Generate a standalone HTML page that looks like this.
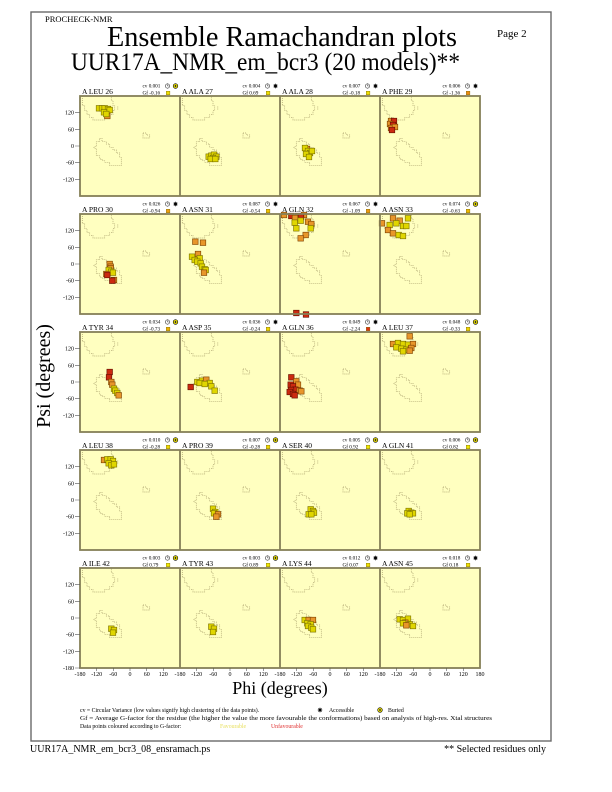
<!DOCTYPE html>
<html><head><meta charset="utf-8"><style>
html,body{margin:0;padding:0;background:#fff;}
svg{display:block;font-family:"Liberation Serif",serif;}
</style></head><body>
<svg width="612" height="792" viewBox="0 0 612 792" xmlns="http://www.w3.org/2000/svg">
<defs>
<g id="reg" fill="none" stroke="#a89e6a" stroke-width="0.7" stroke-dasharray="1,1">
<path d="M2.3,0 V9.7 H4.7 V14.7 H7 V18.7 H9.7 V21.3 H13 V24 H24.7 V21.3 H29.7 V18.7 H33 V14.7 H34.7 V9.7 H33 V4.7 H31.3 V0"/>
<path d="M37.8,10.5 V14"/>
<path d="M19.7,42.3 H22 V45.7 H26.3 V48 H29.7 V51.3 H33 V54 H36.3 V57 H39.7 V61.3 H41.3 V69.7 H29.7 V66.3 H24.7 V64.7 H22 V63 H19.7 V59.7 H16.3 V52.3 H14 V50.7 H16.3 V45.7 H19.7 Z"/>
<path d="M63,37 H66.3 V39 H69.7 V42 H63 Z"/>
</g>
<g id="pan"><rect x="0" y="0" width="100" height="100" fill="#ffffc0"/><use href="#reg"/></g>
<rect id="Y" x="-2.8" y="-2.8" width="5.6" height="5.6" fill="#e0d600" stroke="#786e00" stroke-width="0.6"/>
<rect id="O" x="-2.8" y="-2.8" width="5.6" height="5.6" fill="#e8962a" stroke="#7a4000" stroke-width="0.6"/>
<rect id="R" x="-2.8" y="-2.8" width="5.6" height="5.6" fill="#cc2a10" stroke="#601000" stroke-width="0.6"/>
<g id="clk"><circle r="2.2" fill="#fff" stroke="#000" stroke-width="0.5"/><path d="M0,0 V-1.6 M0,0 H1.2" stroke="#000" stroke-width="0.4"/></g>
<g id="acc"><circle r="1.5" fill="#000"/><path d="M-2.4,0 H2.4 M0,-2.4 V2.4 M-1.7,-1.7 L1.7,1.7 M-1.7,1.7 L1.7,-1.7" stroke="#000" stroke-width="0.6"/></g>
<g id="bur"><circle r="2.3" fill="#f0e400" stroke="#000" stroke-width="0.6"/><ellipse rx="0.8" ry="1.2" fill="#333"/></g>
</defs>

<rect x="31" y="12" width="520" height="729" fill="none" stroke="#6a6a6a" stroke-width="1.4"/>

<text x="45" y="22" font-size="8.5">PROCHECK-NMR</text>
<text x="497" y="37" font-size="11">Page  2</text>
<text x="107" y="46" font-size="28" textLength="350" lengthAdjust="spacingAndGlyphs">Ensemble Ramachandran plots</text>
<text x="71" y="70" font-size="25" textLength="389" lengthAdjust="spacingAndGlyphs">UUR17A_NMR_em_bcr3 (20 models)**</text>

<!-- panels backgrounds -->
<g>
<use href="#pan" x="80" y="96"/><use href="#pan" x="180" y="96"/><use href="#pan" x="280" y="96"/><use href="#pan" x="380" y="96"/>
<use href="#pan" x="80" y="214"/><use href="#pan" x="180" y="214"/><use href="#pan" x="280" y="214"/><use href="#pan" x="380" y="214"/>
<use href="#pan" x="80" y="332"/><use href="#pan" x="180" y="332"/><use href="#pan" x="280" y="332"/><use href="#pan" x="380" y="332"/>
<use href="#pan" x="80" y="450"/><use href="#pan" x="180" y="450"/><use href="#pan" x="280" y="450"/><use href="#pan" x="380" y="450"/>
<use href="#pan" x="80" y="568"/><use href="#pan" x="180" y="568"/><use href="#pan" x="280" y="568"/><use href="#pan" x="380" y="568"/>
</g>

<!-- data points -->
<g transform="translate(80,96)"><use href="#Y" x="19" y="12.3"/><use href="#Y" x="22" y="12.3"/><use href="#Y" x="24.7" y="12.3"/><use href="#Y" x="28" y="13"/><use href="#Y" x="29.7" y="14"/><use href="#Y" x="24" y="16.3"/><use href="#O" x="27.3" y="20"/><use href="#Y" x="26.3" y="18"/></g>
<g transform="translate(180,96)"><use href="#Y" x="28.7" y="60.7"/><use href="#Y" x="31.3" y="59.7"/><use href="#Y" x="34" y="58.7"/><use href="#Y" x="36.3" y="60.7"/><use href="#Y" x="33" y="62"/><use href="#Y" x="30.7" y="63"/><use href="#Y" x="35.3" y="63"/></g>
<g transform="translate(280,96)"><use href="#O" x="27" y="53"/><use href="#Y" x="25" y="52"/><use href="#Y" x="28" y="55"/><use href="#Y" x="30" y="57"/><use href="#Y" x="26" y="58"/><use href="#Y" x="29" y="61"/><use href="#Y" x="32" y="55"/></g>
<g transform="translate(380,96)"><use href="#O" x="11" y="25"/><use href="#R" x="14" y="25"/><use href="#O" x="10" y="28"/><use href="#R" x="13" y="29"/><use href="#O" x="11" y="32"/><use href="#O" x="15" y="31"/><use href="#R" x="12" y="34"/></g>

<g transform="translate(80,214)"><use href="#O" x="29.7" y="50"/><use href="#O" x="30.7" y="52.7"/><use href="#O" x="30.7" y="54.3"/><use href="#Y" x="28.7" y="56"/><use href="#Y" x="31.3" y="57.7"/><use href="#Y" x="33" y="58.7"/><use href="#O" x="26.3" y="60"/><use href="#R" x="27.3" y="61"/><use href="#O" x="34" y="66"/><use href="#R" x="32.3" y="66.7"/></g>
<g transform="translate(180,214)"><use href="#O" x="15.3" y="27.7"/><use href="#O" x="23" y="28.7"/><use href="#O" x="18" y="40"/><use href="#Y" x="12" y="42.7"/><use href="#Y" x="19.7" y="44.3"/><use href="#Y" x="14.7" y="46"/><use href="#Y" x="17.3" y="47.7"/><use href="#Y" x="20.7" y="49.3"/><use href="#Y" x="22" y="52.7"/><use href="#Y" x="24.7" y="55.3"/><use href="#Y" x="25.7" y="56"/><use href="#O" x="24" y="58.7"/></g>
<g transform="translate(280,214)"><use href="#O" x="4" y="1"/><use href="#R" x="11.3" y="2"/><use href="#R" x="18" y="2"/><use href="#O" x="24" y="1"/><use href="#R" x="21" y="3"/><use href="#O" x="15" y="4"/><use href="#Y" x="14.7" y="8.7"/><use href="#Y" x="20.7" y="6.7"/><use href="#O" x="28" y="7.7"/><use href="#O" x="31.3" y="10"/><use href="#Y" x="16.3" y="14.3"/><use href="#Y" x="30.7" y="14.3"/><use href="#O" x="25.7" y="21"/><use href="#O" x="20.7" y="24.3"/><use href="#R" x="16.3" y="99"/><use href="#R" x="26" y="100.5"/></g>
<g transform="translate(380,214)"><use href="#O" x="2" y="9.3"/><use href="#O" x="13" y="4.3"/><use href="#O" x="19.7" y="6.7"/><use href="#Y" x="28" y="4.3"/><use href="#Y" x="9.7" y="11"/><use href="#Y" x="16.3" y="9.3"/><use href="#Y" x="23" y="12"/><use href="#Y" x="26.3" y="12"/><use href="#O" x="8" y="16"/><use href="#O" x="13" y="19.3"/><use href="#Y" x="18.7" y="21"/><use href="#Y" x="23" y="22"/></g>

<g transform="translate(80,332)"><use href="#R" x="29.7" y="40"/><use href="#R" x="29" y="45.3"/><use href="#O" x="31.3" y="50"/><use href="#O" x="32.3" y="52.7"/><use href="#Y" x="34" y="56.7"/><use href="#Y" x="35.3" y="58.7"/><use href="#Y" x="37.3" y="61"/><use href="#O" x="38.7" y="63.3"/></g>
<g transform="translate(180,332)"><use href="#R" x="10.7" y="55"/><use href="#Y" x="17.3" y="50"/><use href="#Y" x="22" y="48.7"/><use href="#O" x="26.3" y="47.7"/><use href="#Y" x="19.7" y="51"/><use href="#Y" x="29.7" y="51"/><use href="#Y" x="24.7" y="52"/><use href="#Y" x="31.3" y="54.3"/><use href="#Y" x="34.7" y="58.7"/></g>
<g transform="translate(280,332)"><use href="#R" x="11.3" y="45.3"/><use href="#O" x="16.3" y="49.3"/><use href="#R" x="10.7" y="52.7"/><use href="#O" x="18" y="52.7"/><use href="#R" x="13" y="54.3"/><use href="#R" x="15.3" y="57.7"/><use href="#R" x="11" y="58"/><use href="#O" x="19.7" y="58.7"/><use href="#O" x="21.3" y="59.3"/><use href="#R" x="9.7" y="60"/><use href="#R" x="13" y="62"/><use href="#R" x="14.7" y="63.3"/></g>
<g transform="translate(380,332)"><use href="#O" x="29.7" y="4.3"/><use href="#O" x="13" y="12"/><use href="#Y" x="18" y="11"/><use href="#Y" x="23" y="12"/><use href="#Y" x="28" y="12.7"/><use href="#O" x="33" y="12"/><use href="#Y" x="16.3" y="15.3"/><use href="#Y" x="21.3" y="16.7"/><use href="#Y" x="26.3" y="17.7"/><use href="#O" x="31.3" y="16"/><use href="#Y" x="23" y="19.3"/><use href="#O" x="29.7" y="18.7"/></g>

<g transform="translate(80,450)"><use href="#O" x="24" y="10"/><use href="#Y" x="27.3" y="9.3"/><use href="#Y" x="30.7" y="9.3"/><use href="#Y" x="33" y="11"/><use href="#Y" x="28.7" y="13.3"/><use href="#Y" x="31.3" y="15.3"/><use href="#Y" x="34" y="14.3"/></g>
<g transform="translate(180,450)"><use href="#Y" x="33" y="58.7"/><use href="#Y" x="35.3" y="62"/><use href="#Y" x="34" y="63.3"/><use href="#O" x="38" y="64.3"/><use href="#O" x="36.3" y="66.7"/></g>
<g transform="translate(280,450)"><use href="#Y" x="30.7" y="59.3"/><use href="#Y" x="33" y="61"/><use href="#Y" x="34" y="62.7"/><use href="#Y" x="28.7" y="64.3"/><use href="#Y" x="31.3" y="64.3"/></g>
<g transform="translate(380,450)"><use href="#Y" x="28.7" y="61"/><use href="#Y" x="31.3" y="62.7"/><use href="#Y" x="33" y="63.3"/><use href="#Y" x="27.3" y="63.3"/><use href="#Y" x="29.7" y="64.3"/></g>

<g transform="translate(80,568)"><use href="#Y" x="31.3" y="60.7"/><use href="#Y" x="34" y="62"/><use href="#Y" x="33" y="64.7"/></g>
<g transform="translate(180,568)"><use href="#Y" x="31.3" y="58.7"/><use href="#Y" x="34" y="60.7"/><use href="#Y" x="33" y="64"/></g>
<g transform="translate(280,568)"><use href="#Y" x="24.7" y="52"/><use href="#O" x="28.7" y="52"/><use href="#O" x="33" y="52"/><use href="#Y" x="27.3" y="55.3"/><use href="#Y" x="30.7" y="56.3"/><use href="#Y" x="28" y="58"/><use href="#Y" x="31.3" y="59.7"/><use href="#Y" x="33" y="61.3"/></g>
<g transform="translate(380,568)"><use href="#Y" x="19.7" y="51.3"/><use href="#Y" x="23" y="52"/><use href="#Y" x="28" y="50.7"/><use href="#O" x="25.3" y="54.7"/><use href="#Y" x="23" y="55.3"/><use href="#Y" x="29.7" y="56.3"/><use href="#O" x="26.3" y="57.3"/><use href="#Y" x="33" y="58"/></g>

<!-- panel borders -->
<g fill="none" stroke="#858058" stroke-width="1.8">
<rect x="80" y="96" width="400" height="100"/><rect x="80" y="214" width="400" height="100"/><rect x="80" y="332" width="400" height="100"/><rect x="80" y="450" width="400" height="100"/><rect x="80" y="568" width="400" height="100"/>
<path d="M180,96 V196 M280,96 V196 M380,96 V196 M180,214 V314 M280,214 V314 M380,214 V314 M180,332 V432 M280,332 V432 M380,332 V432 M180,450 V550 M280,450 V550 M380,450 V550 M180,568 V668 M280,568 V668 M380,568 V668"/>
</g>

<!-- headers -->
<g font-size="7.5">
<text x="82" y="94">A LEU 26</text><text x="182" y="94">A ALA 27</text><text x="282" y="94">A ALA 28</text><text x="382" y="94">A PHE 29</text>
<text x="82" y="212">A PRO 30</text><text x="182" y="212">A ASN 31</text><text x="282" y="212">A GLN 32</text><text x="382" y="212">A ASN 33</text>
<text x="82" y="330">A TYR 34</text><text x="182" y="330">A ASP 35</text><text x="282" y="330">A GLN 36</text><text x="382" y="330">A LEU 37</text>
<text x="82" y="448">A LEU 38</text><text x="182" y="448">A PRO 39</text><text x="282" y="448">A SER 40</text><text x="382" y="448">A GLN 41</text>
<text x="82" y="566">A ILE 42</text><text x="182" y="566">A TYR 43</text><text x="282" y="566">A LYS 44</text><text x="382" y="566">A ASN 45</text>
</g>
<g font-size="5.2">
<text x="142.5" y="87.5">cv 0.001</text><text x="142.5" y="94.7">Gf -0.16</text>
<text x="242.5" y="87.5">cv 0.004</text><text x="242.5" y="94.7">Gf 0.69</text>
<text x="342.5" y="87.5">cv 0.007</text><text x="342.5" y="94.7">Gf -0.18</text>
<text x="442.5" y="87.5">cv 0.006</text><text x="442.5" y="94.7">Gf -1.36</text>
<text x="142.5" y="205.5">cv 0.026</text><text x="142.5" y="212.7">Gf -0.94</text>
<text x="242.5" y="205.5">cv 0.087</text><text x="242.5" y="212.7">Gf -0.54</text>
<text x="342.5" y="205.5">cv 0.067</text><text x="342.5" y="212.7">Gf -1.09</text>
<text x="442.5" y="205.5">cv 0.074</text><text x="442.5" y="212.7">Gf -0.63</text>
<text x="142.5" y="323.5">cv 0.034</text><text x="142.5" y="330.7">Gf -0.73</text>
<text x="242.5" y="323.5">cv 0.036</text><text x="242.5" y="330.7">Gf -0.24</text>
<text x="342.5" y="323.5">cv 0.049</text><text x="342.5" y="330.7">Gf -2.24</text>
<text x="442.5" y="323.5">cv 0.048</text><text x="442.5" y="330.7">Gf -0.33</text>
<text x="142.5" y="441.5">cv 0.010</text><text x="142.5" y="448.7">Gf -0.28</text>
<text x="242.5" y="441.5">cv 0.007</text><text x="242.5" y="448.7">Gf -0.28</text>
<text x="342.5" y="441.5">cv 0.005</text><text x="342.5" y="448.7">Gf 0.92</text>
<text x="442.5" y="441.5">cv 0.006</text><text x="442.5" y="448.7">Gf 0.82</text>
<text x="142.5" y="559.5">cv 0.003</text><text x="142.5" y="566.7">Gf 0.79</text>
<text x="242.5" y="559.5">cv 0.003</text><text x="242.5" y="566.7">Gf 0.89</text>
<text x="342.5" y="559.5">cv 0.012</text><text x="342.5" y="566.7">Gf 0.07</text>
<text x="442.5" y="559.5">cv 0.018</text><text x="442.5" y="566.7">Gf 0.18</text>
</g>
<!-- icons -->
<g>
<use href="#clk" x="167.5" y="86"/><use href="#bur" x="175.5" y="86"/>
<use href="#clk" x="267.5" y="86"/><use href="#acc" x="275.5" y="86"/>
<use href="#clk" x="367.5" y="86"/><use href="#acc" x="375.5" y="86"/>
<use href="#clk" x="467.5" y="86"/><use href="#acc" x="475.5" y="86"/>
<use href="#clk" x="167.5" y="204"/><use href="#acc" x="175.5" y="204"/>
<use href="#clk" x="267.5" y="204"/><use href="#acc" x="275.5" y="204"/>
<use href="#clk" x="367.5" y="204"/><use href="#acc" x="375.5" y="204"/>
<use href="#clk" x="467.5" y="204"/><use href="#bur" x="475.5" y="204"/>
<use href="#clk" x="167.5" y="322"/><use href="#bur" x="175.5" y="322"/>
<use href="#clk" x="267.5" y="322"/><use href="#acc" x="275.5" y="322"/>
<use href="#clk" x="367.5" y="322"/><use href="#acc" x="375.5" y="322"/>
<use href="#clk" x="467.5" y="322"/><use href="#bur" x="475.5" y="322"/>
<use href="#clk" x="167.5" y="440"/><use href="#bur" x="175.5" y="440"/>
<use href="#clk" x="267.5" y="440"/><use href="#bur" x="275.5" y="440"/>
<use href="#clk" x="367.5" y="440"/><use href="#bur" x="375.5" y="440"/>
<use href="#clk" x="467.5" y="440"/><use href="#bur" x="475.5" y="440"/>
<use href="#clk" x="167.5" y="558"/><use href="#bur" x="175.5" y="558"/>
<use href="#clk" x="267.5" y="558"/><use href="#bur" x="275.5" y="558"/>
<use href="#clk" x="367.5" y="558"/><use href="#acc" x="375.5" y="558"/>
<use href="#clk" x="467.5" y="558"/><use href="#acc" x="475.5" y="558"/>
</g>
<g stroke="#7a6a00" stroke-width="0.4">
<rect x="166.3" y="91.2" width="3.6" height="3.6" fill="#f0e000"/><rect x="266.3" y="91.2" width="3.6" height="3.6" fill="#f0e000"/><rect x="366.3" y="91.2" width="3.6" height="3.6" fill="#f0e000"/><rect x="466.3" y="91.2" width="3.6" height="3.6" fill="#f08a10"/>
<rect x="166.3" y="209.2" width="3.6" height="3.6" fill="#f0a010"/><rect x="266.3" y="209.2" width="3.6" height="3.6" fill="#f0c000"/><rect x="366.3" y="209.2" width="3.6" height="3.6" fill="#f09810"/><rect x="466.3" y="209.2" width="3.6" height="3.6" fill="#f0b800"/>
<rect x="166.3" y="327.2" width="3.6" height="3.6" fill="#f0b000"/><rect x="266.3" y="327.2" width="3.6" height="3.6" fill="#f0d800"/><rect x="366.3" y="327.2" width="3.6" height="3.6" fill="#e03010"/><rect x="466.3" y="327.2" width="3.6" height="3.6" fill="#f0d400"/>
<rect x="166.3" y="445.2" width="3.6" height="3.6" fill="#f0d800"/><rect x="266.3" y="445.2" width="3.6" height="3.6" fill="#f0d800"/><rect x="366.3" y="445.2" width="3.6" height="3.6" fill="#f0e800"/><rect x="466.3" y="445.2" width="3.6" height="3.6" fill="#f0e800"/>
<rect x="166.3" y="563.2" width="3.6" height="3.6" fill="#f0e800"/><rect x="266.3" y="563.2" width="3.6" height="3.6" fill="#f0e800"/><rect x="366.3" y="563.2" width="3.6" height="3.6" fill="#f0e000"/><rect x="466.3" y="563.2" width="3.6" height="3.6" fill="#f0e000"/>
</g>

<!-- y ticks -->
<g stroke="#555" stroke-width="0.6">
<path d="M75,112.7 H80 M75,129.3 H80 M75,146 H80 M75,162.7 H80 M75,179.3 H80"/>
<path d="M75,230.7 H80 M75,247.3 H80 M75,264 H80 M75,280.7 H80 M75,297.3 H80"/>
<path d="M75,348.7 H80 M75,365.3 H80 M75,382 H80 M75,398.7 H80 M75,415.3 H80"/>
<path d="M75,466.7 H80 M75,483.3 H80 M75,500 H80 M75,516.7 H80 M75,533.3 H80"/>
<path d="M75,584.7 H80 M75,601.3 H80 M75,618 H80 M75,634.7 H80 M75,651.3 H80 M75,668 H80"/>
</g>
<g font-size="6" text-anchor="end">
<text x="74" y="114.7">120</text><text x="74" y="131.3">60</text><text x="74" y="148">0</text><text x="74" y="164.7">-60</text><text x="74" y="181.3">-120</text>
<text x="74" y="232.7">120</text><text x="74" y="249.3">60</text><text x="74" y="266">0</text><text x="74" y="282.7">-60</text><text x="74" y="299.3">-120</text>
<text x="74" y="350.7">120</text><text x="74" y="367.3">60</text><text x="74" y="384">0</text><text x="74" y="400.7">-60</text><text x="74" y="417.3">-120</text>
<text x="74" y="468.7">120</text><text x="74" y="485.3">60</text><text x="74" y="502">0</text><text x="74" y="518.7">-60</text><text x="74" y="535.3">-120</text>
<text x="74" y="586.7">120</text><text x="74" y="603.3">60</text><text x="74" y="620">0</text><text x="74" y="636.7">-60</text><text x="74" y="653.3">-120</text><text x="74" y="670">-180</text>
</g>

<!-- x ticks -->
<g stroke="#555" stroke-width="0.6">
<path d="M96.7,668 V671 M113.3,668 V671 M130,668 V671 M146.7,668 V671 M163.3,668 V671 M196.7,668 V671 M213.3,668 V671 M230,668 V671 M246.7,668 V671 M263.3,668 V671 M296.7,668 V671 M313.3,668 V671 M330,668 V671 M346.7,668 V671 M363.3,668 V671 M396.7,668 V671 M413.3,668 V671 M430,668 V671 M446.7,668 V671 M463.3,668 V671"/>
</g>
<g font-size="6" text-anchor="middle">
<text x="80" y="676">-180</text><text x="96.7" y="676">-120</text><text x="113.3" y="676">-60</text><text x="130" y="676">0</text><text x="146.7" y="676">60</text><text x="163.3" y="676">120</text>
<text x="180" y="676">-180</text><text x="196.7" y="676">-120</text><text x="213.3" y="676">-60</text><text x="230" y="676">0</text><text x="246.7" y="676">60</text><text x="263.3" y="676">120</text>
<text x="280" y="676">-180</text><text x="296.7" y="676">-120</text><text x="313.3" y="676">-60</text><text x="330" y="676">0</text><text x="346.7" y="676">60</text><text x="363.3" y="676">120</text>
<text x="380" y="676">-180</text><text x="396.7" y="676">-120</text><text x="413.3" y="676">-60</text><text x="430" y="676">0</text><text x="446.7" y="676">60</text><text x="463.3" y="676">120</text><text x="480" y="676">180</text>
</g>

<text transform="translate(50,376) rotate(-90)" text-anchor="middle" font-size="20">Psi (degrees)</text>
<text x="280" y="694" text-anchor="middle" font-size="18">Phi (degrees)</text>

<!-- legend -->
<g font-size="5.8">
<text x="80" y="712">cv = Circular Variance (low values signify high clustering of the data points).</text>
<use href="#acc" x="320" y="710"/><text x="329" y="712">Accessible</text>
<use href="#bur" x="380" y="710"/><text x="388" y="712">Buried</text>
<text x="80" y="720" textLength="412" lengthAdjust="spacingAndGlyphs">Gf = Average G-factor for the residue (the higher the value the more favourable the conformations) based on analysis of high-res. Xtal structures</text>
<text x="80" y="728">Data points coloured according to G-factor:</text>
<text x="220" y="728" fill="#e8e060">Favourable</text>
<text x="271" y="728" fill="#e03030">Unfavourable</text>
</g>

<text x="30" y="752" font-size="10">UUR17A_NMR_em_bcr3_08_ensramach.ps</text>
<text x="546" y="752" font-size="10" text-anchor="end">** Selected residues only</text>
</svg>
</body></html>
